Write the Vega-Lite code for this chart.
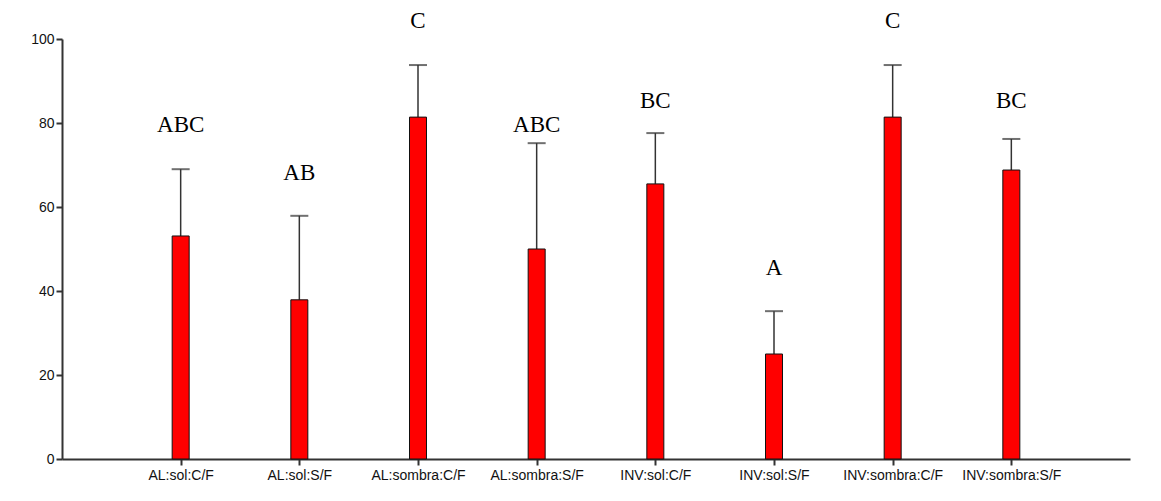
{
  "$schema": "https://vega.github.io/schema/vega-lite/v6.json",
  "autosize": {"type": "none"},
  "padding": {"left": 62, "top": 39, "right": 31, "bottom": 42},
  "width": 1068,
  "height": 420,
  "background": "white",
  "config": {"view": {"stroke": null}},
  "data": {
    "values": [
      {"grupo": "AL:sol:C/F", "media": 53.1, "sup": 69.0, "letra": "ABC", "letra_y": 79.5},
      {"grupo": "AL:sol:S/F", "media": 37.9, "sup": 57.9, "letra": "AB", "letra_y": 68.0},
      {"grupo": "AL:sombra:C/F", "media": 81.4, "sup": 93.8, "letra": "C", "letra_y": 104.3},
      {"grupo": "AL:sombra:S/F", "media": 50.0, "sup": 75.2, "letra": "ABC", "letra_y": 79.5},
      {"grupo": "INV:sol:C/F", "media": 65.5, "sup": 77.6, "letra": "BC", "letra_y": 85.2},
      {"grupo": "INV:sol:S/F", "media": 25.0, "sup": 35.2, "letra": "A", "letra_y": 45.5},
      {"grupo": "INV:sombra:C/F", "media": 81.4, "sup": 93.8, "letra": "C", "letra_y": 104.3},
      {"grupo": "INV:sombra:S/F", "media": 68.8, "sup": 76.2, "letra": "BC", "letra_y": 85.2}
    ]
  },
  "encoding": {
    "x": {
      "field": "grupo",
      "type": "nominal",
      "sort": null,
      "scale": {"type": "point", "padding": 1},
      "axis": {
        "title": null,
        "labelAngle": 0,
        "labelFont": "Liberation Sans",
        "labelFontSize": 14,
        "labelColor": "#111111",
        "labelPadding": 3,
        "domainColor": "#333333",
        "domainWidth": 2,
        "tickColor": "#333333",
        "tickWidth": 2,
        "tickSize": 6,
        "grid": false
      }
    }
  },
  "layer": [
    {
      "mark": {"type": "rule", "color": "#333333", "strokeWidth": 1.5},
      "encoding": {
        "y": {"field": "media", "type": "quantitative", "scale": {"domain": [0, 100], "nice": false}},
        "y2": {"field": "sup"}
      }
    },
    {
      "mark": {"type": "tick", "color": "#333333", "thickness": 2, "size": 18, "orient": "horizontal"},
      "encoding": {
        "y": {"field": "sup", "type": "quantitative"}
      }
    },
    {
      "mark": {"type": "bar", "width": 17, "fill": "#ff0000", "stroke": "#111111", "strokeWidth": 1},
      "encoding": {
        "y": {
          "field": "media",
          "type": "quantitative",
          "scale": {"domain": [0, 100], "nice": false},
          "axis": {
            "title": null,
            "values": [0, 20, 40, 60, 80, 100],
            "labelFont": "Liberation Sans",
            "labelFontSize": 14,
            "labelColor": "#111111",
            "labelPadding": 2,
            "domainColor": "#333333",
            "domainWidth": 2,
            "tickColor": "#333333",
            "tickWidth": 2,
            "tickSize": 6,
            "grid": false
          }
        }
      }
    },
    {
      "mark": {"type": "text", "font": "Liberation Serif", "fontSize": 23, "baseline": "middle", "align": "center", "color": "#000000"},
      "encoding": {
        "y": {"field": "letra_y", "type": "quantitative"},
        "text": {"field": "letra"}
      }
    }
  ]
}
